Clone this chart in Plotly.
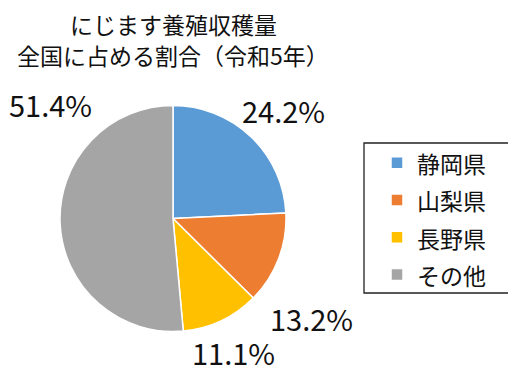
import plotly.graph_objects as go

labels = ["静岡県", "山梨県", "長野県", "その他"]
values = [24.2, 13.2, 11.1, 51.4]
colors = ["#5B9BD5", "#ED7D31", "#FFC000", "#A5A5A5"]
title_lines = ["にじます養殖収穫量", "全国に占める割合（令和5年）"]

# page body adds an 8px margin; figure fills the rest of the 516x373 window
OFF = 8
W, H = 516 - OFF, 373 - OFF
font = "Noto Sans CJK JP, Noto Sans, sans-serif"
ink = "#111111"


def fx(px):
    return (px - OFF) / W


def fy(py):
    return 1 - (py - OFF) / H


# layout: title line centres and data-label centres (window pixels)
title_py = [24, 55]
label_px = [(283, 110), (311, 318), (233, 352), (50, 104)]

legend_labels = [f"<span style='font-size:23px'>{l}</span>" for l in labels]

fig = go.Figure(go.Pie(
    labels=legend_labels, values=values, sort=False, direction="clockwise", rotation=0,
    marker=dict(colors=colors, line=dict(color="white", width=1.5)),
    textinfo="none", hoverinfo="label+percent",
    domain=dict(x=[fx(60), fx(286)], y=[fy(332), fy(105)]),
    showlegend=True,
))

annotations = []
for t, py in zip(title_lines, title_py):
    annotations.append(dict(
        text=t, xref="paper", yref="paper", x=fx(173), y=fy(py),
        xanchor="center", yanchor="middle", showarrow=False, borderpad=0,
        font=dict(size=23, family=font, color=ink)))
for v, (px, py) in zip(values, label_px):
    annotations.append(dict(
        text=f"{v:.1f}%", xref="paper", yref="paper", x=fx(px), y=fy(py),
        xanchor="center", yanchor="middle", showarrow=False, borderpad=0,
        font=dict(size=29, family=font, color=ink)))

fig.update_layout(
    width=W, height=H, margin=dict(l=0, r=0, t=0, b=0, autoexpand=False),
    paper_bgcolor="white", plot_bgcolor="white",
    font=dict(family=font, color=ink),
    annotations=annotations,
    shapes=[dict(type="rect", xref="paper", yref="paper",
                 x0=fx(364), x1=fx(511), y0=fy(293), y1=fy(143),
                 line=dict(color="#222222", width=1.3), fillcolor="rgba(0,0,0,0)")],
    legend=dict(x=fx(377), y=fy(139), xanchor="left", yanchor="top",
                borderwidth=0, bgcolor="rgba(0,0,0,0)",
                font=dict(size=26.4, family=font, color=ink),
                itemwidth=30),
)

fig.write_html("out.html")
